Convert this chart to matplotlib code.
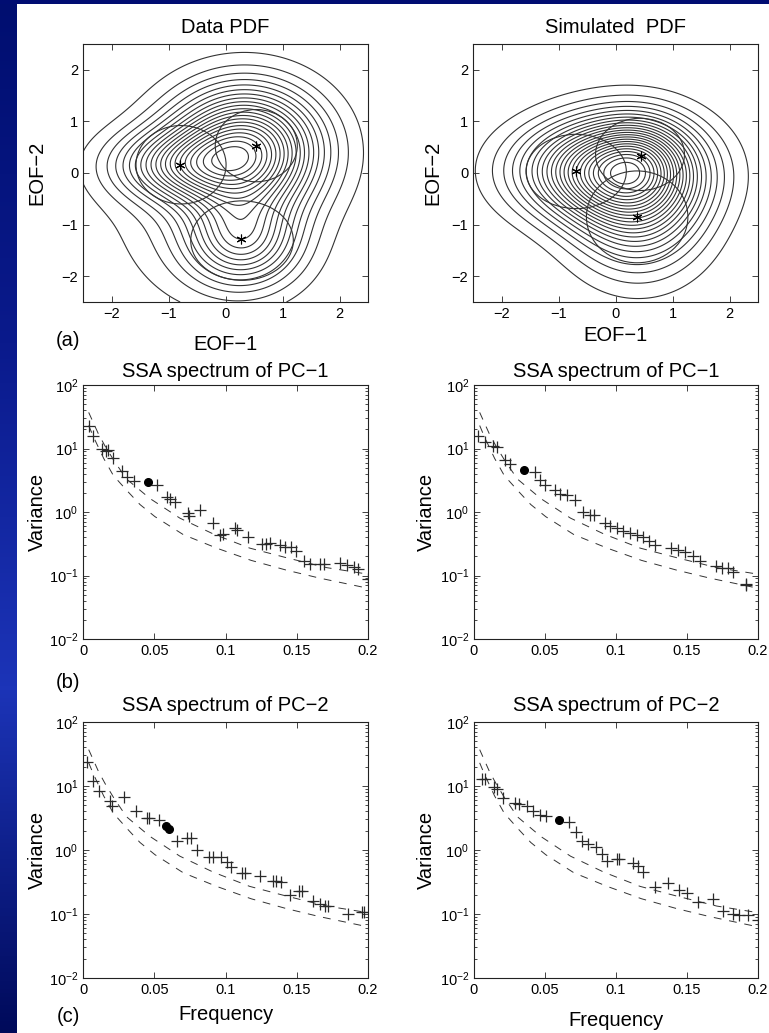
import numpy as np
import matplotlib
matplotlib.use("Agg")
import matplotlib.pyplot as plt
from matplotlib.patches import Ellipse
from matplotlib.ticker import LogLocator, NullFormatter, FixedLocator
from matplotlib.colors import LinearSegmentedColormap

plt.rcParams['font.family'] = ['Liberation Sans', 'DejaVu Sans']
plt.rcParams['mathtext.fontset'] = 'custom'
plt.rcParams['mathtext.rm'] = 'Liberation Sans'
plt.rcParams['mathtext.default'] = 'regular'

#
# PDF panels: gaussian bumps (centre x, centre y, sd x, sd y, amplitude)
#
data_pdf_cx = [0.35, -0.80, 0.30, -0.30]
data_pdf_cy = [0.45, 0.15, -1.30, -0.80]
data_pdf_sx = [0.85, 0.80, 0.65, 1.20]
data_pdf_sy = [0.78, 0.45, 0.60, 1.20]
data_pdf_amp = [1.00, 0.45, 0.50, 0.12]

sim_pdf_cx = [0.20, -0.70, 0.40, 0.45]
sim_pdf_cy = [0.05, 0.05, -0.85, 0.35]
sim_pdf_sx = [0.88, 0.88, 0.76, 0.50]
sim_pdf_sy = [0.68, 0.60, 0.80, 0.50]
sim_pdf_amp = [1.00, 0.40, 0.45, 0.20]

# regime circles and their centres (stars)
data_ell_x = [-0.78, 0.54, 0.29]
data_ell_y = [0.16, 0.53, -1.31]
data_ell_a = [0.79, 0.72, 0.90]
data_ell_b = [0.76, 0.70, 0.77]
data_star_x = [-0.80, 0.54, 0.28]
data_star_y = [0.15, 0.52, -1.27]

sim_ell_x = [-0.69, 0.43, 0.38]
sim_ell_y = [0.03, 0.36, -0.85]
sim_ell_a = [0.88, 0.78, 0.89]
sim_ell_b = [0.72, 0.70, 0.89]
sim_star_x = [-0.70, 0.45, 0.38]
sim_star_y = [0.04, 0.33, -0.85]

#
# SSA spectra
#
pc1_data_f = [0.0042, 0.0073, 0.0131, 0.0161, 0.0176, 0.0213, 0.0276, 0.0306, 0.036, 0.0522,
              0.0587, 0.061, 0.0646, 0.0735, 0.0745, 0.0821, 0.0915, 0.0961, 0.0985, 0.107,
              0.108, 0.116, 0.1254, 0.1284, 0.131, 0.138, 0.1418, 0.146, 0.1495, 0.155,
              0.159, 0.166, 0.169, 0.180, 0.185, 0.190, 0.193, 0.200]
pc1_data_v = [22.5, 15.7, 10.0, 9.0, 9.5, 7.0, 4.5, 3.6, 3.07, 2.69,
              1.73, 1.59, 1.45, 0.955, 0.88, 1.07, 0.667, 0.44, 0.45, 0.557,
              0.52, 0.40, 0.314, 0.314, 0.32, 0.30, 0.28, 0.28, 0.24, 0.169,
              0.15, 0.15, 0.15, 0.157, 0.145, 0.135, 0.128, 0.088]
pc1_data_hl = (0.0454, 3.0)

pc1_sim_f = [0.003, 0.0077, 0.0136, 0.016, 0.0218, 0.025, 0.043, 0.0465, 0.050, 0.057,
             0.0606, 0.0653, 0.0711, 0.077, 0.0817, 0.0845, 0.0923, 0.0958, 0.1005, 0.105,
             0.1099, 0.1146, 0.119, 0.1235, 0.1275, 0.1387, 0.1439, 0.1486, 0.1545, 0.159,
             0.1704, 0.1744, 0.179, 0.1826, 0.1918, 0.1918]
pc1_sim_v = [16.0, 12.7, 11.0, 10.7, 6.7, 5.7, 4.24, 3.14, 2.69, 2.2,
             1.95, 1.84, 1.54, 1.0, 0.89, 0.89, 0.667, 0.61, 0.557, 0.494,
             0.47, 0.43, 0.40, 0.35, 0.307, 0.27, 0.256, 0.236, 0.20, 0.169,
             0.141, 0.13, 0.133, 0.115, 0.073, 0.070]
pc1_sim_hl = (0.0354, 4.66)

pc2_data_f = [0.0026, 0.0073, 0.0115, 0.019, 0.020, 0.029, 0.0372, 0.0447, 0.0465, 0.0533,
              0.0662, 0.0732, 0.0755, 0.0802, 0.0887, 0.091, 0.0966, 0.1008, 0.104, 0.1118,
              0.1135, 0.1242, 0.1336, 0.1355, 0.1387, 0.1453, 0.1518, 0.1535, 0.1616, 0.166,
              0.170, 0.172, 0.186, 0.1956, 0.1975]
pc2_data_v = [23.5, 12.1, 8.5, 5.9, 4.8, 6.66, 4.0, 3.16, 3.16, 2.94,
              1.4, 1.52, 1.52, 1.0, 0.787, 0.787, 0.787, 0.64, 0.537, 0.436,
              0.436, 0.388, 0.332, 0.332, 0.313, 0.20, 0.232, 0.232, 0.161, 0.143,
              0.132, 0.132, 0.10, 0.109, 0.109]
pc2_data_hl_f = [0.0585, 0.0600]
pc2_data_hl_v = [2.35, 2.15]

pc2_sim_f = [0.0054, 0.0075, 0.0141, 0.0164, 0.0207, 0.0289, 0.0319, 0.0371, 0.0418, 0.0465,
             0.0507, 0.0671, 0.0718, 0.0758, 0.0805, 0.0859, 0.0899, 0.0934, 0.1005, 0.1023,
             0.1122, 0.1157, 0.1192, 0.1275, 0.1368, 0.1446, 0.1498, 0.158, 0.168, 0.1756,
             0.1822, 0.1868, 0.193, 0.200]
pc2_sim_v = [12.8, 12.8, 9.5, 9.0, 6.5, 5.36, 5.2, 4.8, 4.1, 3.57,
             3.36, 2.7, 1.89, 1.4, 1.24, 1.1, 0.866, 0.68, 0.72, 0.72,
             0.626, 0.569, 0.448, 0.26, 0.31, 0.24, 0.213, 0.152, 0.171, 0.113,
             0.10, 0.097, 0.095, 0.081]
pc2_sim_hl = (0.0601, 2.98)

# red-noise bounds (dashed)
null_hi_f = [0.004, 0.0108, 0.0154, 0.022, 0.0306, 0.047, 0.068, 0.0915, 0.117, 0.143, 0.171, 0.200]
null_hi_v = [37.0, 17.0, 11.0, 6.3, 3.3, 1.63, 0.80, 0.45, 0.27, 0.19, 0.133, 0.105]
null_lo_f = [0.004, 0.0075, 0.0145, 0.0213, 0.0306, 0.040, 0.0505, 0.0704, 0.0938, 0.118, 0.143, 0.166, 0.200]
null_lo_v = [23.0, 15.0, 7.0, 3.76, 2.2, 1.31, 0.845, 0.44, 0.27, 0.173, 0.121, 0.091, 0.063]

W, H = 769, 1033
fig = plt.figure(figsize=(W / 100, H / 100), dpi=100)

# slide background strips
bg = fig.add_axes([0, 0, 17 / W, 1])
grad = LinearSegmentedColormap.from_list('slide', ['#000a5a', '#1c34b8', '#0a1a8c', '#000e70'])
bg.imshow(np.linspace(0, 1, 256)[:, None], aspect='auto', cmap=grad, origin='lower')
bg.set_axis_off()
top = fig.add_axes([0, 1 - 4 / H, 1, 4 / H])
top.set_facecolor('#000d72')
top.set_xticks([])
top.set_yticks([])
for s in top.spines.values():
    s.set_visible(False)

ink = '#222222'
tick_fs = 10.5
lab_fs = 14.5


def px_axes(x0, y0, x1, y1):
    return fig.add_axes([x0 / W, 1 - y1 / H, (x1 - x0) / W, (y1 - y0) / H])


def style(ax):
    ax.tick_params(direction='in', top=True, right=True, length=4, width=0.6,
                   labelsize=tick_fs, colors=ink, labelcolor='black')
    ax.tick_params(which='minor', direction='in', top=True, right=True, length=2, width=0.5)
    for s in ax.spines.values():
        s.set_linewidth(0.8)
        s.set_color(ink)


gx = np.linspace(-2.5, 2.5, 301)
X, Y = np.meshgrid(gx, gx)


def pdf_panel(ax, cx, cy, sx, sy, amp, ex, ey, ea, eb, stx, sty, nlev):
    Z = np.zeros_like(X)
    for i in range(len(cx)):
        Z += amp[i] * np.exp(-0.5 * ((X - cx[i]) / sx[i]) ** 2 - 0.5 * ((Y - cy[i]) / sy[i]) ** 2)
    d = Z.max() / (nlev + 1)
    ax.contour(X, Y, Z, levels=d * np.arange(1, nlev + 1), colors='#333333', linewidths=0.8)
    for i in range(len(ex)):
        ax.add_patch(Ellipse((ex[i], ey[i]), 2 * ea[i], 2 * eb[i], fill=False,
                             edgecolor='#333333', linewidth=0.8))
    ax.plot(stx, sty, linestyle='none', marker=(6, 2, 0), markersize=7, color='black',
            markeredgewidth=0.8)
    ax.set_xlim(-2.5, 2.5)
    ax.set_ylim(-2.5, 2.5)
    ax.set_xticks([-2, -1, 0, 1, 2])
    ax.set_yticks([-2, -1, 0, 1, 2])
    style(ax)


def spec_panel(ax, f, v, hf, hv):
    ax.plot(null_hi_f, null_hi_v, linestyle=(0, (8, 8)), color='#333333', linewidth=0.7)
    ax.plot(null_lo_f, null_lo_v, linestyle=(0, (8, 8)), color='#333333', linewidth=0.7)
    ax.plot(f, v, linestyle='none', marker='+', markersize=8, markeredgewidth=0.9, color='#2a2a2a')
    ax.plot(hf, hv, linestyle='none', marker='o', markersize=5.5, color='black')
    ax.set_yscale('log')
    ax.set_xlim(0, 0.2)
    ax.set_ylim(1e-2, 1e2)
    ax.set_xticks([0, 0.05, 0.1, 0.15, 0.2])
    ax.set_xticklabels(['0', '0.05', '0.1', '0.15', '0.2'])
    ax.yaxis.set_major_locator(FixedLocator([1e-2, 1e-1, 1e0, 1e1, 1e2]))
    ax.yaxis.set_minor_locator(LogLocator(base=10, subs=np.arange(2, 10), numticks=20))
    ax.yaxis.set_minor_formatter(NullFormatter())
    style(ax)
    ax.set_ylabel('Variance', fontsize=lab_fs)


# (a) PDFs
axA = px_axes(83, 44, 368, 302)
pdf_panel(axA, data_pdf_cx, data_pdf_cy, data_pdf_sx, data_pdf_sy, data_pdf_amp,
          data_ell_x, data_ell_y, data_ell_a, data_ell_b, data_star_x, data_star_y, 21)
axA.set_title('Data PDF', fontsize=lab_fs, pad=8)
axA.set_ylabel('EOF\u22122', fontsize=lab_fs)
axA.set_xlabel('EOF\u22121', fontsize=lab_fs)
axA.xaxis.set_label_coords(0.5, -0.128)
axA.yaxis.set_label_coords(-0.127, 0.5)

axB = px_axes(473, 44, 758, 302)
pdf_panel(axB, sim_pdf_cx, sim_pdf_cy, sim_pdf_sx, sim_pdf_sy, sim_pdf_amp,
          sim_ell_x, sim_ell_y, sim_ell_a, sim_ell_b, sim_star_x, sim_star_y, 24)
axB.set_title('Simulated  PDF', fontsize=lab_fs, pad=8)
axB.set_ylabel('EOF\u22122', fontsize=lab_fs)
axB.set_xlabel('EOF\u22121', fontsize=lab_fs)
axB.xaxis.set_label_coords(0.5, -0.094)
axB.yaxis.set_label_coords(-0.106, 0.5)

# (b) PC-1 spectra
axC = px_axes(83, 385, 368, 639)
spec_panel(axC, pc1_data_f, pc1_data_v, pc1_data_hl[0], pc1_data_hl[1])
axC.set_title('SSA spectrum of PC\u22121', fontsize=lab_fs, pad=6)
axC.yaxis.set_label_coords(-0.127, 0.5)

axD = px_axes(474, 385, 758, 639)
spec_panel(axD, pc1_sim_f, pc1_sim_v, pc1_sim_hl[0], pc1_sim_hl[1])
axD.set_title('SSA spectrum of PC\u22121', fontsize=lab_fs, pad=6)
axD.yaxis.set_label_coords(-0.133, 0.5)

# (c) PC-2 spectra
axE = px_axes(83, 722, 368, 978)
spec_panel(axE, pc2_data_f, pc2_data_v, pc2_data_hl_f, pc2_data_hl_v)
axE.set_title('SSA spectrum of PC\u22122', fontsize=lab_fs, pad=8)
axE.set_xlabel('Frequency', fontsize=lab_fs)
axE.xaxis.set_label_coords(0.5, -0.105)
axE.yaxis.set_label_coords(-0.127, 0.5)

axF = px_axes(474, 722, 758, 978)
spec_panel(axF, pc2_sim_f, pc2_sim_v, pc2_sim_hl[0], pc2_sim_hl[1])
axF.set_title('SSA spectrum of PC\u22122', fontsize=lab_fs, pad=8)
axF.set_xlabel('Frequency', fontsize=lab_fs)
axF.xaxis.set_label_coords(0.5, -0.13)
axF.yaxis.set_label_coords(-0.133, 0.5)

for lab, yp in [('(a)', 341), ('(b)', 682), ('(c)', 1016)]:
    fig.text(68 / W, 1 - yp / H, lab, fontsize=lab_fs, ha='center', va='center')

fig.savefig('out.png', dpi=100)
